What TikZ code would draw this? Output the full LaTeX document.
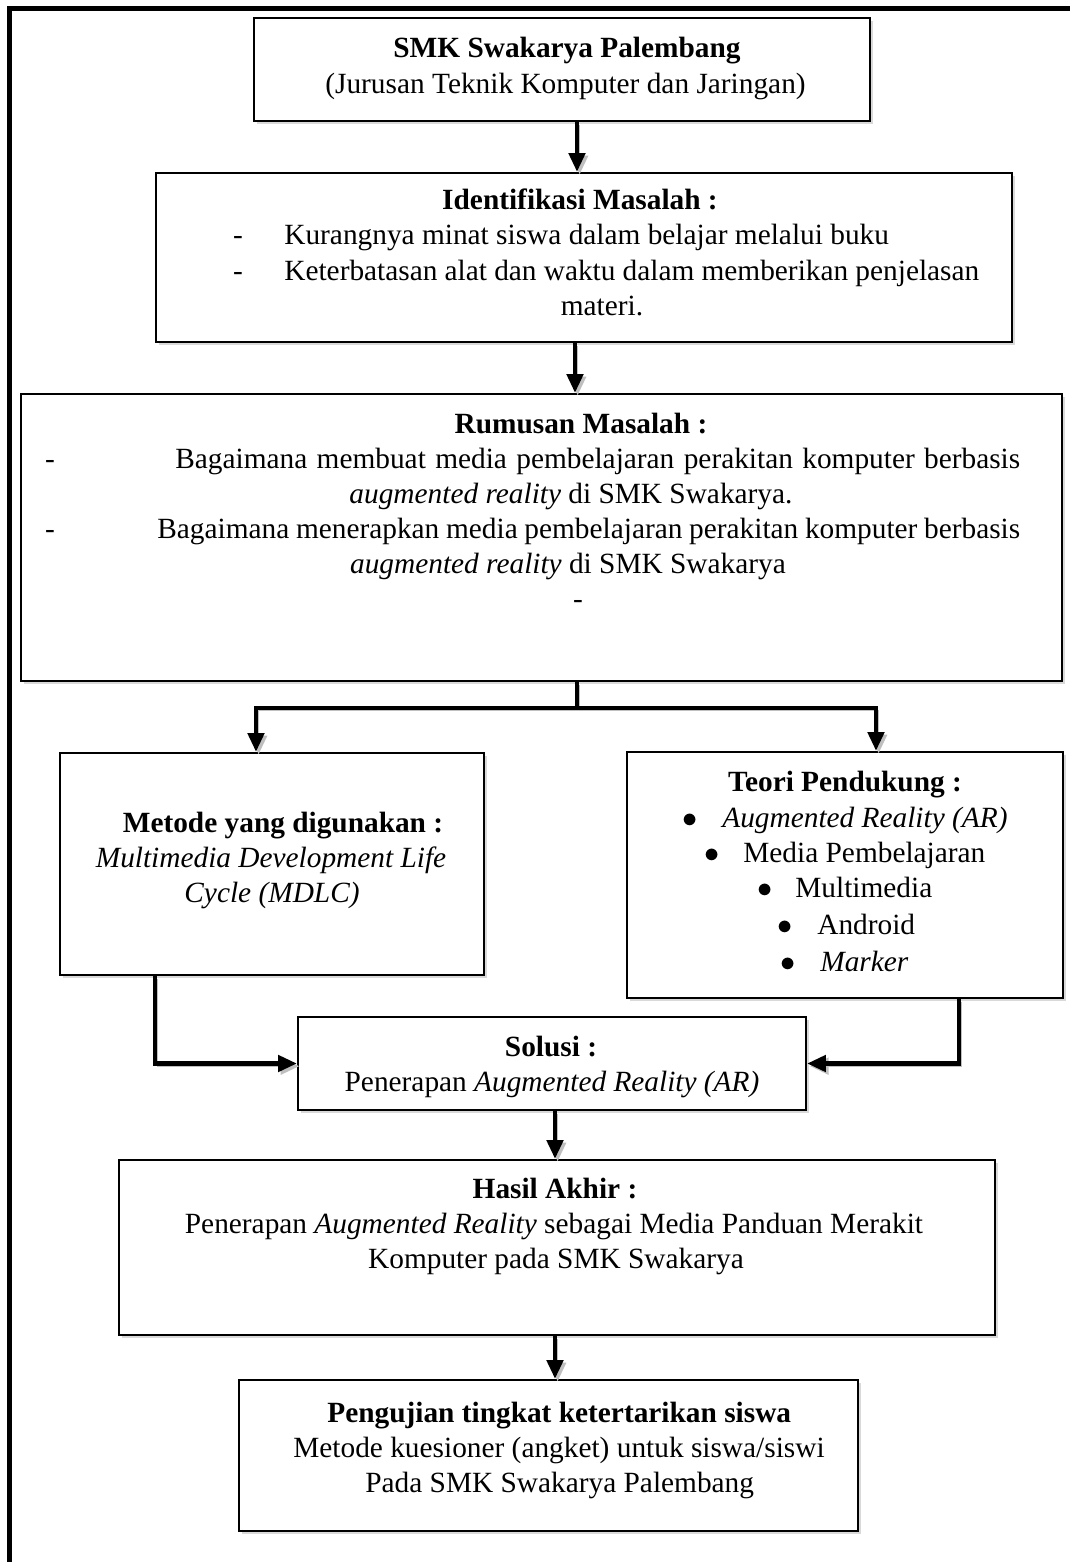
\documentclass[tikz,border=0pt]{standalone}
\usepackage{fontspec}
\setmainfont{Liberation Serif}
\usetikzlibrary{arrows.meta,positioning,fit,shadows}

\begin{document}
\begin{tikzpicture}[x=0.02cm, y=-0.02cm,
  font=\fontsize{16.7pt}{20pt}\selectfont,
  >={Triangle[width=0.32cm, length=0.38cm]},
  box/.style={draw, line width=1.1pt, fill=white, inner sep=0pt,
    drop shadow={shadow xshift=1.6pt, shadow yshift=-1.6pt, opacity=0.3}},
  txt/.style={inner sep=0pt, text height=1.5ex, text depth=0.3ex},
  head/.style={txt, font=\fontsize{16.7pt}{20pt}\selectfont\bfseries},
  shade/.style={preaction={draw=black!25, transform canvas={xshift=1.5pt, yshift=-1.5pt}}},
  arr/.style={->, line width=2.8pt, shade},
  link/.style={line width=2.8pt, shade}]

\useasboundingbox (0,0) rectangle (1070,1562);

% =========================================================
% Outer frame (only left and top edges show)
% =========================================================
\draw[line width=0.1cm, line join=miter] (9.5,1562) -- (9.5,8) -- (1070,8);

% =========================================================
% Boxes
% =========================================================
\node[box, fit={(254,18) (870,121)}]   (top) {};
\node[box, fit={(156,173) (1012,342)}] (idm) {};
\node[box, fit={(21,394) (1062,681)}]  (rum) {};
\node[box, fit={(60,753) (484,975)}]   (met) {};
\node[box, fit={(627,752) (1063,998)}] (teo) {};
\node[box, fit={(298,1017) (806,1110)}] (sol) {};
\node[box, fit={(119,1160) (995,1335)}] (has) {};
\node[box, fit={(239,1380) (858,1531)}] (uji) {};

% =========================================================
% Texts
% =========================================================
% school
\node[head, anchor=west] (topA) at (393,53) {SMK Swakarya Palembang};
\node[txt, anchor=west]  (topB) at (325,89) {(Jurusan Teknik Komputer dan Jaringan)};

% problem identification
\node[head] (idmA) at (580,205) {Identifikasi Masalah :};
\node[txt]  (idmD1) at (238,240) {-};
\node[txt, anchor=west] (idmB) at (284,240) {Kurangnya minat siswa dalam belajar melalui buku};
\node[txt]  (idmD2) at (238,276) {-};
\node[txt, anchor=west] (idmC) at (284,276)
  {\makebox[13.9cm][s]{Keterbatasan alat dan waktu dalam memberikan penjelasan}};
\node[txt]  (idmE) at (602,311) {materi.};

% problem formulation
\node[head] (rumA) at (581,429) {Rumusan Masalah :};
\node[txt]  (rumD1) at (50,464) {-};
\node[txt, anchor=west] (rumB) at (175,464)
  {\makebox[16.9cm][s]{Bagaimana membuat media pembelajaran perakitan komputer berbasis}};
\node[txt]  (rumC) at (571,499) {\textit{augmented reality} di SMK Swakarya.};
\node[txt]  (rumD2) at (50,534) {-};
\node[txt, anchor=west] (rumE) at (157,534)
  {\makebox[17.26cm][s]{Bagaimana menerapkan media pembelajaran perakitan komputer berbasis}};
\node[txt]  (rumF) at (568,569) {\textit{augmented reality} di SMK Swakarya};
\node[txt]  (rumD3) at (578,604) {-};

% method
\node[head] (metA) at (283,828) {Metode yang digunakan :};
\node[txt]  (metB) at (271,863) {\textit{Multimedia Development Life}};
\node[txt]  (metC) at (272,898) {\textit{Cycle (MDLC)}};

% supporting theory
\node[head] (teoA) at (845,787) {Teori Pendukung :};
\foreach \bx/\tx/\ty/\lbl in {
    690/722/823/\textit{Augmented Reality (AR)},
    712/743/858/Media Pembelajaran,
    765/795/893/Multimedia,
    785/817/930/Android,
    788/820/967/\textit{Marker}}{
  \node[txt] at (\bx,\ty) {$\bullet$};
  \node[txt, anchor=west] at (\tx,\ty) {\lbl};
}

% solution
\node[head] (solA) at (551,1052) {Solusi :};
\node[txt]  (solB) at (552,1087) {Penerapan \textit{Augmented Reality (AR)}};

% final result
\node[head] (hasA) at (555,1194) {Hasil Akhir :};
\node[txt]  (hasB) at (554,1229) {Penerapan \textit{Augmented Reality} sebagai Media Panduan Merakit};
\node[txt]  (hasC) at (556,1264) {Komputer pada SMK Swakarya};

% testing
\node[head, anchor=west] (ujiA) at (327,1418) {Pengujian tingkat ketertarikan siswa};
\node[txt, anchor=west]  (ujiB) at (293,1453) {Metode kuesioner (angket) untuk siswa/siswi};
\node[txt, anchor=west]  (ujiC) at (365,1488) {Pada SMK Swakarya Palembang};

% =========================================================
% Connectors
% =========================================================
\coordinate (ax1) at (577,0);
\coordinate (ax2) at (575,0);
\coordinate (split) at (577,708);
\coordinate (lx) at (256,0);
\coordinate (rx) at (876,0);
\coordinate (mx) at (155,0);
\coordinate (tx) at (959,0);
\coordinate (dx) at (555,0);

\draw[arr] (top.south -| ax1) -- (idm.north -| ax1);
\draw[arr] (idm.south -| ax2) -- (rum.north -| ax2);

\draw[link] (rum.south -| split) -- (split);
\draw[arr] (split) -| (met.north -| lx);
\draw[arr] (split) -| (teo.north -| rx);

\draw[arr] (met.south -| mx) |- (sol.west);
\draw[arr] (teo.south -| tx) |- (sol.east);

\draw[arr] (sol.south -| dx) -- (has.north -| dx);
\draw[arr] (has.south -| dx) -- (uji.north -| dx);

\end{tikzpicture}
\end{document}
